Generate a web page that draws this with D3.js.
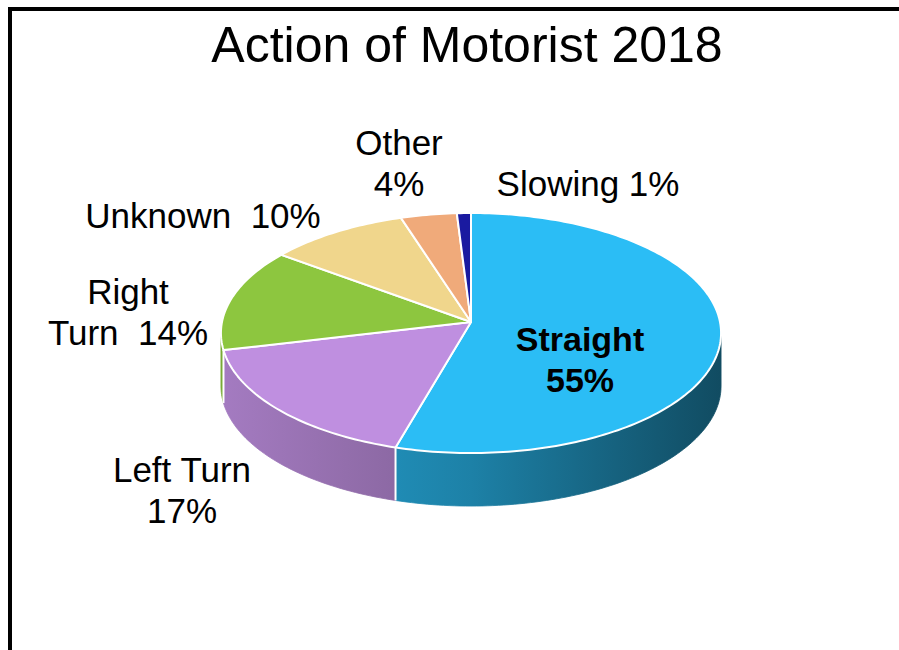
<!DOCTYPE html>
<html>
<head>
<meta charset="utf-8">
<script src="https://cdn.jsdelivr.net/npm/d3@7"></script>
<style>
  html, body { margin: 0; padding: 0; background: #fff; }
  svg { display: block; }
  text { font-family: "Liberation Sans", Arial, sans-serif; fill: #000; white-space: pre; }
</style>
</head>
<body>
<svg id="chart" width="899" height="650"></svg>
<script>
// Motorist actions, percentage share
const categories = ["Straight", "Left Turn", "Right Turn", "Unknown", "Other", "Slowing"];
const values = [55, 17, 14, 10, 4, 1];
const colors = ["#2bbdf5", "#bf8fe0", "#8dc63f", "#f0d68c", "#f0aa7a", "#1a1aa0"];
const chartTitle = "Action of Motorist 2018";

// How each data label is broken into lines
const labelStyle = ["stack", "stack", "wrap", "inline2", "stack", "inline"];
// Where each label block sits (centre x, first baseline y)
const labelLayout = [
  { x: 580, y: 351, bold: true },
  { x: 182, y: 482 },
  { x: 128, y: 304 },
  { x: 203, y: 228 },
  { x: 399, y: 155 },
  { x: 588, y: 196 }
];

const W = 899, H = 650;
// disc seen from above with a little perspective
const cx = 471, cy = 322, R = 249, S = 119, persp = 0.092, depth = 53;

const svg = d3.select("#chart");
svg.append("rect").attr("width", W).attr("height", H).attr("fill", "#fff");
const defs = svg.append("defs");

const pie = d3.pie().sort(null).value(d => d.value);
const arcs = pie(categories.map((c, i) => ({ name: c, value: values[i], color: colors[i], i })));

// project a rim point (angle 0 = far side, clockwise) to the screen
function rim(a, dz = 0) {
  const u = Math.sin(a), v = Math.cos(a), k = 1 + persp * v;
  return [cx + R * u / k, cy - S * v / k + dz];
}
function rimPoints(a0, a1, dz = 0) {
  const n = Math.max(2, Math.ceil((a1 - a0) / 0.02));
  return d3.range(n + 1).map(j => rim(a0 + (a1 - a0) * j / n, dz));
}
const line = d3.line();

// side-wall shading: brighter toward the left
const shade = d3.scaleLinear().domain([cx - R, cx, cx + R]).range([0.86, 0.68, 0.40]);
arcs.forEach(a => {
  const g = defs.append("linearGradient")
    .attr("id", "side" + a.data.i)
    .attr("gradientUnits", "userSpaceOnUse")
    .attr("x1", cx - R).attr("x2", cx + R).attr("y1", 0).attr("y2", 0);
  [0, 0.25, 0.5, 0.75, 1].forEach(t => {
    const x = cx - R + t * 2 * R;
    g.append("stop").attr("offset", t)
      .attr("stop-color", d3.interpolateRgb(a.data.color, "#000")(1 - shade(x)));
  });
});

// visible stretch of the outer wall: between the two silhouette points
const lo = Math.acos(-persp), hi = 2 * Math.PI - lo;
const sides = svg.append("g");
arcs.forEach(a => {
  const s = Math.max(a.startAngle, lo), e = Math.min(a.endAngle, hi);
  if (e <= s) return;
  const pts = rimPoints(s, e).concat(rimPoints(s, e, depth).reverse());
  sides.append("path")
    .attr("d", line(pts) + "Z")
    .attr("fill", `url(#side${a.data.i})`)
    .attr("stroke", `url(#side${a.data.i})`)
    .attr("stroke-width", 0.8);
});
// white seams where slices meet on the wall
arcs.forEach(a => {
  const t = a.startAngle;
  if (t > lo && t < hi) {
    const p0 = rim(t), p1 = rim(t, depth);
    sides.append("line")
      .attr("x1", p0[0]).attr("y1", p0[1])
      .attr("x2", p1[0]).attr("y2", p1[1])
      .attr("stroke", "#fff").attr("stroke-width", 2);
  }
});

// top faces
svg.append("g")
  .selectAll("path")
  .data(arcs)
  .join("path")
  .attr("d", d => line([[cx, cy]].concat(rimPoints(d.startAngle, d.endAngle))) + "Z")
  .attr("fill", d => d.data.color)
  .attr("stroke", "#fff")
  .attr("stroke-width", 2)
  .attr("stroke-linejoin", "round");

// title
svg.append("text")
  .attr("x", 467).attr("y", 62)
  .attr("text-anchor", "middle")
  .style("font-size", "50px")
  .text(chartTitle);

// data labels
function labelLines(i) {
  const c = categories[i], v = values[i] + "%";
  switch (labelStyle[i]) {
    case "stack": return [c, v];
    case "wrap": { const w = c.split(" "); return [w[0], w.slice(1).join(" ") + "  " + v]; }
    case "inline2": return [c + "  " + v];
    default: return [c + " " + v];
  }
}
const lg = svg.append("g");
arcs.forEach(a => {
  const i = a.data.i, L = labelLayout[i];
  const t = lg.append("text")
    .attr("text-anchor", "middle")
    .style("font-size", L.bold ? "34px" : "35px")
    .style("font-weight", L.bold ? "bold" : "normal");
  labelLines(i).forEach((s, k) => {
    t.append("tspan").attr("x", L.x).attr("y", L.y + k * 41).text(s);
  });
});

// frame
svg.append("rect")
  .attr("x", 10).attr("y", 9)
  .attr("width", W + 20).attr("height", H + 20)
  .attr("fill", "none").attr("stroke", "#000").attr("stroke-width", 4);
</script>
</body>
</html>
